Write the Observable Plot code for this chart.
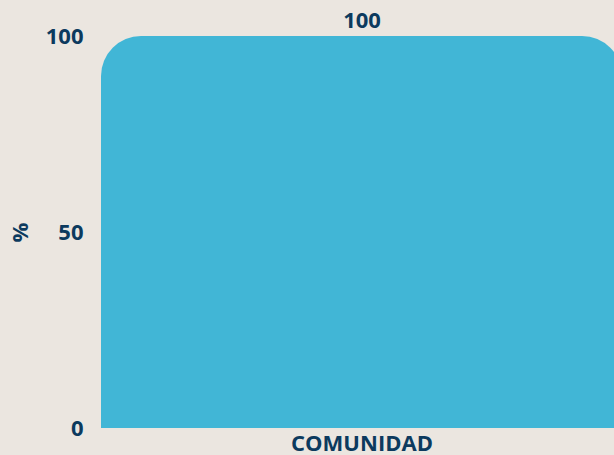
<!DOCTYPE html>
<html>
<head>
<meta charset="utf-8">
<script src="https://cdn.jsdelivr.net/npm/d3@7"></script>
<script src="https://cdn.jsdelivr.net/npm/@observablehq/plot@0.6"></script>
<style>
  html, body { margin: 0; padding: 0; background: #ebe6e0; overflow: hidden; }
  #chart { width: 614px; height: 455px; overflow: hidden; }
  #chart svg { display: block; max-width: none !important; width: 640px; height: 455px; }
</style>
</head>
<body>
<div id="chart"></div>
<script>
const categories = ["COMUNIDAD"];
const values = [100];
const yTicks = [0, 50, 100];

const data = categories.map((c, i) => ({category: c, value: values[i]}));
const ink = "#0c3a5e";
const barColor = "#41b6d6";
const fs = 22;

const chart = Plot.plot({
  width: 640,
  height: 455,
  marginLeft: 101,
  marginRight: 18,
  marginTop: 36,
  marginBottom: 27,
  style: {background: "#ebe6e0", fontFamily: "'Open Sans', sans-serif", fontWeight: "bold", fontSize: fs + "px", color: ink, maxWidth: "none"},
  x: {domain: categories, padding: 0, label: null},
  y: {domain: [0, 100], ticks: yTicks, label: "%"},
  marks: [
    Plot.barY(data, {x: "category", y: "value", fill: barColor, rx: 40, insetBottom: -60, clip: true}),
    Plot.text(data, {x: "category", y: "value", text: d => String(d.value), dy: -16, fill: ink, fontSize: fs, fontWeight: "bold"}),
    Plot.axisX({tickSize: 0, tickPadding: 7, fontSize: fs, fontWeight: "bold", fill: ink, label: null}),
    Plot.axisY({ticks: yTicks, tickSize: 0, tickPadding: 18, fontSize: fs, fontWeight: "bold", fill: ink, label: "%", labelAnchor: "center", labelArrow: "none", labelOffset: 89})
  ]
});
document.getElementById("chart").appendChild(chart);
</script>
</body>
</html>
